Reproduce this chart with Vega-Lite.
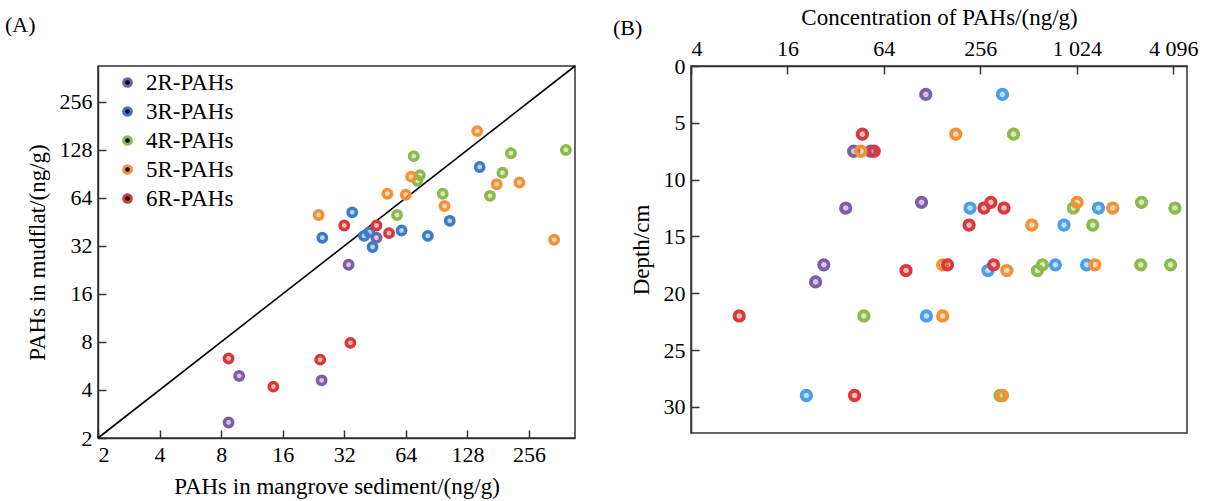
{
  "$schema": "https://vega.github.io/schema/vega-lite/v6.json",
  "background": "white",
  "padding": {"left": 4, "top": 5, "right": 5, "bottom": 1},
  "bounds": "flush",
  "spacing": 116,
  "config": {
    "font": "Liberation Serif",
    "view": {"stroke": "#333333", "strokeWidth": 1.5},
    "style": {"guide-label": {"font": "Liberation Serif", "fontWeight": "normal"}},
    "axis": {
      "labelFont": "Liberation Serif", "titleFont": "Liberation Serif",
      "labelFontSize": 22, "titleFontSize": 23, "titleFontWeight": "normal",
      "labelColor": "black", "titleColor": "black",
      "domainColor": "#333333", "domainWidth": 1.5, "tickColor": "#333333", "tickWidth": 1.5,
      "grid": false, "tickSize": -8, "labelPadding": 14
    },
    "legend": {"labelFont": "Liberation Serif", "labelFontSize": 23, "labelFontWeight": "normal", "labelColor": "black"},
    "title": {"font": "Liberation Serif", "fontSize": 22, "fontWeight": "normal", "color": "black"}
  },
  "resolve": {"scale": {"color": "independent", "fill": "independent", "stroke": "independent"}},
  "hconcat": [
    {
      "width": 477, "height": 372,
      "title": {"text": "(A)", "anchor": "start", "frame": "bounds", "dx": -21, "offset": 26},
      "layer": [
        {
          "data": {"values": [{"x": 2, "y": 2}, {"x": 430, "y": 430}]},
          "mark": {"type": "line", "color": "black", "strokeWidth": 1.6},
          "encoding": {
            "x": {"field": "x", "type": "quantitative", "scale": {"type": "log", "base": 2, "domain": [2, 430], "nice": false}},
            "y": {"field": "y", "type": "quantitative", "scale": {"type": "log", "base": 2, "domain": [2, 430], "nice": false}}
          }
        },
        {
          "data": {"values": [
            {"x": 46, "y": 36, "type": "2R-PAHs"},
            {"x": 33.6, "y": 24.4, "type": "2R-PAHs"},
            {"x": 24.8, "y": 4.6, "type": "2R-PAHs"},
            {"x": 9.8, "y": 4.9, "type": "2R-PAHs"},
            {"x": 8.7, "y": 2.5, "type": "2R-PAHs"},
            {"x": 147, "y": 100, "type": "3R-PAHs"},
            {"x": 35, "y": 52, "type": "3R-PAHs"},
            {"x": 105, "y": 46, "type": "3R-PAHs"},
            {"x": 61, "y": 40, "type": "3R-PAHs"},
            {"x": 82, "y": 37, "type": "3R-PAHs"},
            {"x": 25, "y": 36, "type": "3R-PAHs"},
            {"x": 40, "y": 37, "type": "3R-PAHs"},
            {"x": 42.5, "y": 39, "type": "3R-PAHs"},
            {"x": 44, "y": 31.5, "type": "3R-PAHs"},
            {"x": 388, "y": 128, "type": "4R-PAHs"},
            {"x": 209, "y": 122, "type": "4R-PAHs"},
            {"x": 70, "y": 117, "type": "4R-PAHs"},
            {"x": 190, "y": 92, "type": "4R-PAHs"},
            {"x": 75, "y": 89, "type": "4R-PAHs"},
            {"x": 73, "y": 82, "type": "4R-PAHs"},
            {"x": 97, "y": 68, "type": "4R-PAHs"},
            {"x": 165, "y": 66, "type": "4R-PAHs"},
            {"x": 58, "y": 50, "type": "4R-PAHs"},
            {"x": 143, "y": 168, "type": "5R-PAHs"},
            {"x": 68, "y": 87, "type": "5R-PAHs"},
            {"x": 230, "y": 80, "type": "5R-PAHs"},
            {"x": 178, "y": 78, "type": "5R-PAHs"},
            {"x": 52, "y": 68, "type": "5R-PAHs"},
            {"x": 64, "y": 67, "type": "5R-PAHs"},
            {"x": 99, "y": 57, "type": "5R-PAHs"},
            {"x": 24, "y": 50, "type": "5R-PAHs"},
            {"x": 340, "y": 35, "type": "5R-PAHs"},
            {"x": 32, "y": 43, "type": "6R-PAHs"},
            {"x": 46, "y": 43, "type": "6R-PAHs"},
            {"x": 53, "y": 38.5, "type": "6R-PAHs"},
            {"x": 34.3, "y": 7.9, "type": "6R-PAHs"},
            {"x": 24.4, "y": 6.2, "type": "6R-PAHs"},
            {"x": 8.7, "y": 6.3, "type": "6R-PAHs"},
            {"x": 14.4, "y": 4.2, "type": "6R-PAHs"}
          ]},
          "mark": {"type": "point", "shape": "circle", "filled": true, "size": 70, "strokeWidth": 3.5, "fillOpacity": 0.35},
          "encoding": {
            "x": {"field": "x", "type": "quantitative",
                  "scale": {"type": "log", "base": 2, "domain": [2, 430], "nice": false},
                  "axis": {"values": [2, 4, 8, 16, 32, 64, 128, 256], "title": "PAHs in mangrove sediment/(ng/g)", "titlePadding": 10}},
            "y": {"field": "y", "type": "quantitative",
                  "scale": {"type": "log", "base": 2, "domain": [2, 430], "nice": false},
                  "axis": {"values": [2, 4, 8, 16, 32, 64, 128, 256], "title": "PAHs in mudflat/(ng/g)", "titlePadding": 10}},
            "fill": {"field": "type", "type": "nominal",
                     "scale": {"domain": ["6R-PAHs", "5R-PAHs", "4R-PAHs", "3R-PAHs", "2R-PAHs"], "range": ["#d8393b", "#f39134", "#8cba4c", "#3b7cc8", "#7d5fa8"]},
                     "legend": null},
            "stroke": {"field": "type", "type": "nominal",
                     "scale": {"domain": ["2R-PAHs", "3R-PAHs", "4R-PAHs", "5R-PAHs", "6R-PAHs"], "range": ["#7d5fa8", "#3b7cc8", "#8cba4c", "#f39134", "#d8393b"]},
                     "legend": {"title": null, "orient": "none", "legendX": 18, "legendY": 5, "symbolSize": 60, "symbolStrokeWidth": 3, "rowPadding": 5, "labelOffset": 7, "labelFont": "Liberation Serif", "labelFontWeight": "normal", "labelFontSize": 23,
                                "encode": {
                                  "symbols": {"update": {"fill": {"signal": "datum.value === '2R-PAHs' ? '#d2c7e0' : datum.value === '3R-PAHs' ? '#bad1ec' : datum.value === '4R-PAHs' ? '#d7e7c0' : datum.value === '5R-PAHs' ? '#fbd9b8' : '#f1baba'"}, "fillOpacity": {"value": 1}, "opacity": {"value": 1}}},
                                  "labels": {"update": {"font": {"value": "Liberation Serif"}, "fontWeight": {"value": "normal"}, "fontSize": {"value": 23}, "fill": {"value": "black"}, "opacity": {"value": 1}}}
                                }}}
          }
        }
      ]
    },
    {
      "width": 496, "height": 367,
      "title": {"text": "(B)", "anchor": "start", "frame": "bounds", "dx": -17, "dy": 38},
      "data": {"values": [
        {"conc": 117, "depth": 2.5, "type": "2R-PAHs"},
        {"conc": 41.5, "depth": 7.5, "type": "2R-PAHs"},
        {"conc": 53, "depth": 7.5, "type": "2R-PAHs"},
        {"conc": 37, "depth": 12.5, "type": "2R-PAHs"},
        {"conc": 110, "depth": 12, "type": "2R-PAHs"},
        {"conc": 27, "depth": 17.5, "type": "2R-PAHs"},
        {"conc": 24, "depth": 19, "type": "2R-PAHs"},
        {"conc": 352, "depth": 2.5, "type": "3R-PAHs"},
        {"conc": 221, "depth": 12.5, "type": "3R-PAHs"},
        {"conc": 1400, "depth": 12.5, "type": "3R-PAHs"},
        {"conc": 853, "depth": 14, "type": "3R-PAHs"},
        {"conc": 118, "depth": 22, "type": "3R-PAHs"},
        {"conc": 21, "depth": 29, "type": "3R-PAHs"},
        {"conc": 286, "depth": 18, "type": "3R-PAHs"},
        {"conc": 754, "depth": 17.5, "type": "3R-PAHs"},
        {"conc": 1180, "depth": 17.5, "type": "3R-PAHs"},
        {"conc": 413, "depth": 6, "type": "4R-PAHs"},
        {"conc": 977, "depth": 12.5, "type": "4R-PAHs"},
        {"conc": 2600, "depth": 12, "type": "4R-PAHs"},
        {"conc": 4200, "depth": 12.5, "type": "4R-PAHs"},
        {"conc": 1290, "depth": 14, "type": "4R-PAHs"},
        {"conc": 48, "depth": 22, "type": "4R-PAHs"},
        {"conc": 582, "depth": 18, "type": "4R-PAHs"},
        {"conc": 626, "depth": 17.5, "type": "4R-PAHs"},
        {"conc": 2570, "depth": 17.5, "type": "4R-PAHs"},
        {"conc": 3950, "depth": 17.5, "type": "4R-PAHs"},
        {"conc": 340, "depth": 29, "type": "4R-PAHs"},
        {"conc": 46, "depth": 7.5, "type": "5R-PAHs"},
        {"conc": 180, "depth": 6, "type": "5R-PAHs"},
        {"conc": 1030, "depth": 12, "type": "5R-PAHs"},
        {"conc": 1720, "depth": 12.5, "type": "5R-PAHs"},
        {"conc": 537, "depth": 14, "type": "5R-PAHs"},
        {"conc": 149, "depth": 22, "type": "5R-PAHs"},
        {"conc": 149, "depth": 17.5, "type": "5R-PAHs"},
        {"conc": 375, "depth": 18, "type": "5R-PAHs"},
        {"conc": 1330, "depth": 17.5, "type": "5R-PAHs"},
        {"conc": 352, "depth": 29, "type": "5R-PAHs"},
        {"conc": 47, "depth": 6, "type": "6R-PAHs"},
        {"conc": 55.7, "depth": 7.5, "type": "6R-PAHs"},
        {"conc": 270, "depth": 12.5, "type": "6R-PAHs"},
        {"conc": 298, "depth": 12, "type": "6R-PAHs"},
        {"conc": 360, "depth": 12.5, "type": "6R-PAHs"},
        {"conc": 218, "depth": 14, "type": "6R-PAHs"},
        {"conc": 88, "depth": 18, "type": "6R-PAHs"},
        {"conc": 8, "depth": 22, "type": "6R-PAHs"},
        {"conc": 42, "depth": 29, "type": "6R-PAHs"},
        {"conc": 160, "depth": 17.5, "type": "6R-PAHs"},
        {"conc": 310, "depth": 17.5, "type": "6R-PAHs"}
      ]},
      "mark": {"type": "point", "shape": "circle", "filled": true, "size": 90, "strokeWidth": 3.8, "fillOpacity": 0.35},
      "encoding": {
        "x": {"field": "conc", "type": "quantitative",
              "scale": {"type": "log", "base": 4, "domain": [4, 5000], "nice": false},
              "axis": {"orient": "top", "values": [4, 16, 64, 256, 1024, 4096], "labelExpr": "replace(format(datum.value, ','), ',', ' ')", "title": "Concentration of PAHs/(ng/g)", "titlePadding": 8}},
        "y": {"field": "depth", "type": "quantitative",
              "scale": {"domain": [0, 32.3], "reverse": true, "nice": false, "zero": false},
              "axis": {"values": [0, 5, 10, 15, 20, 25, 30], "title": "Depth/cm", "titlePadding": 10}},
        "fill": {"field": "type", "type": "nominal",
                 "scale": {"domain": ["6R-PAHs", "5R-PAHs", "4R-PAHs", "3R-PAHs", "2R-PAHs"], "range": ["#d8393b", "#f39134", "#8cba4c", "#4b9ded", "#7d5fa8"]},
                 "legend": null},
        "stroke": {"field": "type", "type": "nominal",
                 "scale": {"domain": ["2R-PAHs", "3R-PAHs", "4R-PAHs", "5R-PAHs", "6R-PAHs"], "range": ["#7d5fa8", "#4b9ded", "#8cba4c", "#f39134", "#d8393b"]},
                 "legend": null}
      }
    }
  ]
}
